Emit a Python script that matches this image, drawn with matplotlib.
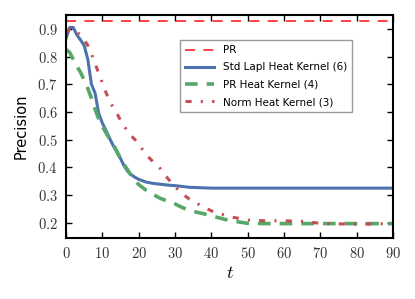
import matplotlib
matplotlib.use("Agg")
import matplotlib.pyplot as plt
from matplotlib.ticker import FormatStrFormatter

plt.rcParams['mathtext.fontset'] = 'cm'

# data
t = [0, 1, 2, 3, 4, 5, 6, 7, 8, 9, 10, 11, 12, 13, 14, 15, 16, 17, 18, 19, 20,
     22, 24, 26, 28, 30, 32, 34, 36, 38, 40, 45, 50, 55, 60, 65, 70, 75, 80, 85, 90]

pr_value = 0.928

std_lapl = [0.865, 0.905, 0.905, 0.878, 0.860, 0.840, 0.790, 0.700, 0.668, 0.595, 0.560,
            0.533, 0.505, 0.478, 0.455, 0.432, 0.405, 0.385, 0.373, 0.364, 0.357,
            0.347, 0.342, 0.339, 0.336, 0.334, 0.331, 0.328, 0.327, 0.326, 0.325,
            0.325, 0.325, 0.325, 0.325, 0.325, 0.325, 0.325, 0.325, 0.325, 0.325]

pr_heat = [0.825, 0.815, 0.790, 0.765, 0.743, 0.715, 0.685, 0.650, 0.610, 0.575, 0.548,
           0.525, 0.503, 0.483, 0.458, 0.432, 0.410, 0.390, 0.370, 0.352, 0.338,
           0.318, 0.302, 0.288, 0.278, 0.268, 0.255, 0.245, 0.238, 0.232, 0.225,
           0.208, 0.198, 0.197, 0.197, 0.197, 0.197, 0.197, 0.197, 0.197, 0.197]

norm_heat = [0.885, 0.900, 0.900, 0.890, 0.875, 0.860, 0.840, 0.810, 0.775, 0.740, 0.705,
             0.670, 0.640, 0.615, 0.595, 0.570, 0.550, 0.528, 0.513, 0.500, 0.485,
             0.446, 0.420, 0.395, 0.360, 0.330, 0.305, 0.285, 0.270, 0.256, 0.243,
             0.222, 0.210, 0.207, 0.207, 0.205, 0.198, 0.196, 0.195, 0.196, 0.197]

fig = plt.figure(figsize=(4.15, 2.99), dpi=100)
ax = fig.add_axes([66 / 415, 1 - 238 / 299, 327 / 415, 223 / 299])

ax.axhline(pr_value, color='#ff2020', lw=1.2, dashes=(6, 5), label='PR')
ax.plot(t, std_lapl, color='#4c72b0', lw=2.2, label='Std Lapl Heat Kernel (6)')
ax.plot(t, pr_heat, color='#55a868', lw=2.6, dashes=(3.5, 2.5), label='PR Heat Kernel (4)')
ax.plot(t, norm_heat, color='#c44e52', lw=2.2, dashes=(2, 3, 0.7, 3),
        label='Norm Heat Kernel (3)')

ax.set_xlim(0, 90)
ax.set_ylim(0.145, 0.95)
ax.set_xticks(range(0, 91, 10))
ax.set_yticks([0.2, 0.3, 0.4, 0.5, 0.6, 0.7, 0.8, 0.9])
ax.xaxis.set_major_formatter(FormatStrFormatter('$%d$'))
ax.yaxis.set_major_formatter(FormatStrFormatter('$%.1f$'))
ax.tick_params(direction='in', top=True, right=True, length=4, width=1,
               labelsize=10.5, pad=6, labelcolor='#333333')
for s in ax.spines.values():
    s.set_linewidth(1.5)

ax.set_xlabel('$t$', fontsize=13, labelpad=2)
ax.set_ylabel('Precision', fontsize=10.5, labelpad=6)

ax.legend(loc='upper left', bbox_to_anchor=(0.349, 0.888), borderaxespad=0,
          fontsize=7.5, fancybox=False, edgecolor='#999999', framealpha=1,
          handlelength=2.8, labelspacing=0.7, borderpad=0.5)

fig.savefig('out.png', dpi=100)
